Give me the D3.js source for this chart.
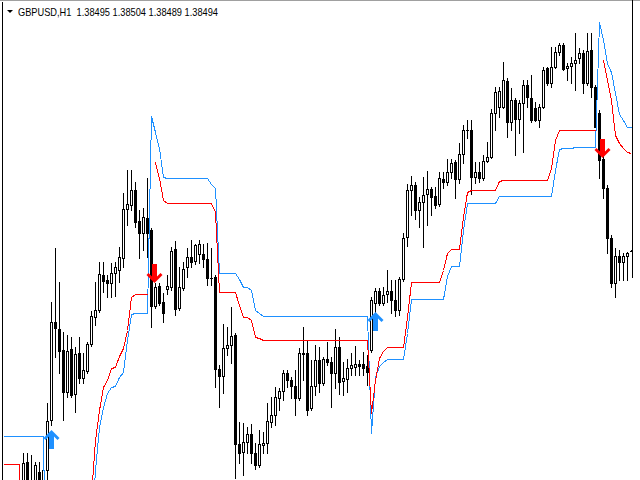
<!DOCTYPE html>
<html><head><meta charset="utf-8">
<script src="https://cdn.jsdelivr.net/npm/d3@7"></script>
<style>html,body{margin:0;padding:0;background:#fff;overflow:hidden}</style>
</head><body>
<svg id="c" width="640" height="480"></svg>
<script>
// Title
const symbol = "GBPUSD,H1";
const lastQuote = ["1.38495", "1.38504", "1.38489", "1.38494"];

// OHLC in pips (price * 10000), bars ordered oldest -> newest
const open = [13595,13602,13592,13600,13606,13605,13638,13605,13605,13628,13610,13630,13680,13778,13771,13750,13708,13751,13706,13747,
13722,13729,13756,13783,13790,13825,13820,13817,13827,13830,13842,13891,13895,13910,13879,13867,13882,13870,13794,13814,
13798,13811,13813,13851,13792,13812,13833,13843,13839,13846,13846,13841,13822,13823,13731,13724,13752,13755,13765,13656,
13648,13658,13666,13647,13635,13655,13657,13678,13685,13702,13709,13727,13720,13714,13702,13747,13747,13692,13714,13740,
13717,13741,13738,13727,13753,13719,13721,13732,13733,13736,13736,13734,13750,13797,13809,13797,13806,13809,13800,13790,
13821,13863,13910,13915,13890,13898,13906,13911,13904,13896,13921,13918,13928,13938,13921,13946,13970,13970,13923,13928,
13922,13939,13943,13987,13993,13993,14019,13978,14000,13981,13997,14015,14002,13992,13980,13993,14032,14017,14033,14048,
14055,14032,14034,14037,14042,14047,14017,14050,14013,13987,13941,13912,13862,13817,13844,13838,13844,13849.5];
const high = [13610,13611,13605,13610,13614,13647,13647,13645,13638,13638,13645,13697,13798,13852,13818,13768,13765,13763,13753,13763,
13747,13758,13789,13818,13838,13838,13825,13837,13838,13853,13907,13930,13930,13918,13890,13892,13922,13872,13817,13817,
13807,13825,13853,13859,13833,13838,13852,13860,13856,13860,13856,13857,13852,13825,13735,13776,13773,13793,13767,13678,
13677,13673,13676,13657,13670,13668,13697,13703,13713,13712,13730,13730,13723,13730,13752,13773,13760,13740,13755,13753,
13743,13758,13743,13771,13763,13738,13741,13747,13754,13740,13748,13745,13803,13812,13812,13813,13830,13820,13820,13823,
13867,13916,13924,13918,13903,13923,13929,13913,13913,13928,13928,13941,13941,13940,13957,13975,13980,13980,13938,13938,
13945,13958,13991,14013,14013,14038,14022,14012,14002,14000,14020,14020,14025,13998,13996,14033,14033,14053,14053,14057,
14057,14037,14043,14067,14052,14050,14067,14067,14015,13990,13945,13915,13865,13852,13850,13847,13848,13850.4];
const low = [13585,13588,13580,13588,13592,13595,13595,13595,13595,13600,13600,13620,13675,13743,13727,13680,13703,13703,13688,13717,
13717,13727,13754,13775,13788,13808,13803,13803,13804,13818,13833,13875,13890,13873,13842,13850,13843,13773,13792,13795,
13778,13806,13810,13785,13790,13810,13823,13833,13836,13837,13833,13815,13815,13713,13693,13707,13745,13737,13622,13637,
13625,13647,13637,13631,13633,13647,13647,13673,13675,13690,13700,13713,13702,13685,13700,13720,13685,13690,13705,13708,
13715,13735,13693,13712,13706,13705,13708,13725,13725,13725,13725,13715,13748,13788,13795,13795,13798,13787,13784,13785,
13819,13854,13885,13881,13873,13853,13875,13885,13892,13894,13912,13915,13922,13902,13917,13937,13962,13906,13917,13918,
13920,13938,13942,13970,13983,13992,13963,13970,13945,13967,13948,13993,13978,13979,13973,13992,14015,14013,14032,14045,
14030,14020,14017,14010,14037,14007,14015,14003,13973,13922,13902,13847,13813,13803,13820,13820,13820,13848.9];
const close = [13602,13592,13600,13606,13598,13637,13605,13615,13635,13610,13630,13679,13778,13772,13749,13708,13749,13705,13746,13722,
13730,13756,13784,13790,13826,13819,13817,13827,13833,13843,13891,13896,13910,13878,13867,13883,13867,13794,13813,13797,
13787,13814,13849,13791,13813,13831,13843,13838,13855,13856,13841,13822,13822,13731,13724,13752,13755,13764,13656,13647,
13658,13666,13647,13635,13656,13657,13679,13685,13703,13709,13727,13720,13714,13702,13747,13746,13690,13714,13740,13717,
13741,13738,13727,13753,13718,13722,13732,13735,13736,13734,13732,13728,13800,13809,13797,13805,13809,13800,13790,13821,
13862,13910,13915,13890,13898,13905,13911,13903,13895,13922,13918,13928,13937,13921,13946,13970,13970,13923,13928,13922,
13939,13943,13987,14008,14009,14020,13978,14000,13981,13997,14015,14003,13980,13980,13993,14030,14017,14033,14048,14055,
14031,14034,14037,14040,14047,14017,14049,14013,13973,13940,13912,13862,13817,13844,13838,13844,13847,13849.4];

// Indicator lines (pips); null = no value
const blueLine = [13664,13664,13664,13664,13664,13664,13664,13664,13664,13664,13664,13400,13420,13440,13450,13460,13480,13490,13500,13510,
13530,13545,13570,13630,13673,13693,13707,13713,13714,13723,13728,13760,13786,13787,13787,13787,13787,13984,13968,13952,
13923,13922,13922,13922,13922,13922,13922,13922,13922,13922,13922,13922,13916,13912,13827,13827,13827,13827,13827,13821,
13813,13813,13810,13790,13787,13784,13784,13784,13784,13784,13784,13784,13784,13784,13784,13784,13784,13784,13784,13784,
13784,13784,13784,13784,13784,13784,13784,13784,13784,13784,13784,13784,13667,13723,13734,13738,13741,13741,13741,13741,
13741,13767,13801,13801,13801,13801,13801,13801,13801,13801,13801,13824,13834,13834,13834,13870,13897,13897,13897,13897,
13897,13897,13897,13897,13904,13904,13904,13904,13904,13904,13904,13904,13904,13904,13904,13904,13904,13904,13930,13951,
13952,13952,13952,13953,13953,13953,13953,13953,13953,14078,14060,14037,14028,14007,13986,13980,13973,13973];
const redLine = [13636,13636,13636,13636,13636,13380,13390,13400,13410,13420,13430,13440,13450,13460,13470,13480,13490,13500,13510,13520,
13530,13545,13605,13660,13690,13713,13720,13732,13733,13744,13752,13770,13803,13806,13806,13806,13806,null,13938,13922,
13900,13897,13897,13897,13897,13897,13897,13897,13897,13897,13897,13897,13897,13888,13808,13808,13808,13808,13808,13795,
13783,13783,13780,13763,13762,13760,13760,13760,13760,13760,13760,13760,13760,13760,13760,13760,13760,13760,13760,13760,
13760,13760,13760,13760,13760,13760,13760,13760,13760,13760,13760,13760,13687,13720,13742,13749,13753,13753,13753,13753,
13753,13783,13818,13818,13818,13818,13818,13818,13818,13818,13830,13847,13851,13851,13851,13883,13908,13910,13910,13910,
13910,13910,13910,13910,13919,13920,13920,13920,13920,13920,13920,13920,13920,13920,13920,13920,13920,13932,13960,13970,
13970,13970,13970,13970,13970,13970,13970,13970,13970,null,14040,14020,14000,13965,13957,13952,13948,13947];

// Signal arrows: bar index and price level of the arrow tip (pips)
const upArrowBars = [12, 93];
const upArrowLevels = [13670, 13788];
const downArrowBars = [38, 150];
const downArrowLevels = [13818, 13943];

const W = 640, H = 480;
const svg = d3.select("#c").attr("shape-rendering", "crispEdges");
const x = d3.scaleLinear().domain([0, open.length - 1]).range([3, 631]);
const y = d3.scaleLinear().domain([13620, 14100]).range([H, 0]);
const px = i => Math.round(x(i));
const py = v => Math.round(y(v));

svg.append("rect").attr("width", W).attr("height", H).attr("fill", "#fff");

// candles
const g = svg.append("g");
open.forEach((o, i) => {
  const c = close[i], cx = px(i);
  const yh = py(high[i]), yl = py(low[i]);
  g.append("rect").attr("x", cx).attr("y", yh).attr("width", 1).attr("height", Math.max(1, yl - yh + 1)).attr("fill", "#000");
  const top = Math.min(py(o), py(c)), bot = Math.max(py(o), py(c));
  g.append("rect").attr("x", cx - 1).attr("y", top).attr("width", 3).attr("height", bot - top + 1).attr("fill", "#000");
  if (c >= o && bot - top > 1) {
    g.append("rect").attr("x", cx).attr("y", top + 1).attr("width", 1).attr("height", bot - top - 1).attr("fill", "#fff");
  }
});

// indicator lines
const line = d3.line().defined(d => d != null).x((d, i) => px(i) + 0.5).y(d => py(d) + 0.5);
svg.append("path").datum(blueLine).attr("d", line).attr("fill", "none").attr("stroke", "#1E90FF").attr("stroke-width", 1);
svg.append("path").datum(redLine).attr("d", line).attr("fill", "none").attr("stroke", "#FF0000").attr("stroke-width", 1);

// arrows
function arrowPath(cx, tip, dir) {
  const pts = [[0,0],[8,8],[6,10],[2.5,6.5],[2.5,19],[-2.5,19],[-2.5,6.5],[-6,10],[-8,8]];
  return "M" + pts.map(p => [cx + p[0], tip + dir * p[1]].join(",")).join("L") + "Z";
}
const ag = svg.append("g").attr("shape-rendering", "geometricPrecision");
upArrowBars.forEach((b, k) => ag.append("path").attr("d", arrowPath(px(b) + 0.5, py(upArrowLevels[k]), 1)).attr("fill", "#1E90FF"));
downArrowBars.forEach((b, k) => ag.append("path").attr("d", arrowPath(px(b) - 0.5, py(downArrowLevels[k]) + 1, -1)).attr("fill", "#FF0000"));

// frame
svg.append("rect").attr("x", 2).attr("y", 2).attr("width", 1).attr("height", H - 2).attr("fill", "#000");
svg.append("rect").attr("x", 0).attr("y", 0).attr("width", W).attr("height", 1).attr("fill", "#a0a0a0");
svg.append("rect").attr("x", 632).attr("y", 0).attr("width", 1).attr("height", 278).attr("fill", "#000");

// title
svg.append("path").attr("d", "M7,10L13,10L10,13Z").attr("fill", "#000").attr("shape-rendering", "geometricPrecision");
svg.append("text").attr("x", 18).attr("y", 16)
  .attr("xml:space", "preserve").style("white-space", "pre")
  .attr("font-family", "Liberation Sans, Arial, sans-serif").attr("font-size", 11)
  .attr("textLength", 200).attr("lengthAdjust", "spacingAndGlyphs")
  .attr("fill", "#000")
  .text(symbol + "  " + lastQuote.join(" "));
</script>
</body></html>
